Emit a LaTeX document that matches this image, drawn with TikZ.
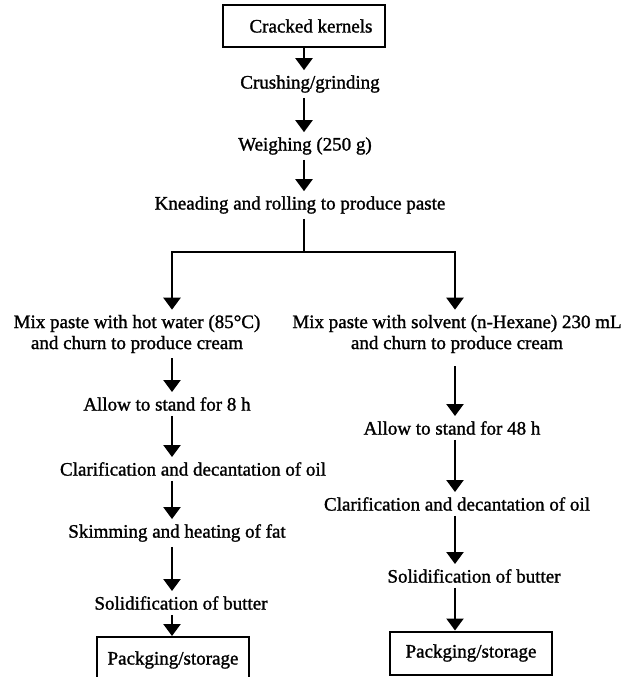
\documentclass[tikz,border=0pt]{standalone}
\usepackage{fontspec}
\setmainfont{Liberation Serif}[FakeBold=1.3]
\usetikzlibrary{arrows.meta,calc}
\tikzset{
  stagebox/.style={draw,line width=2pt,inner xsep=10pt,inner ysep=0pt,
                   minimum height=42pt,align=center},
  stage/.style   ={inner xsep=0pt,inner ysep=5pt,align=center},
  flow/.style    ={-{Triangle[length=12pt,width=17pt]},line width=2.3pt},
  link/.style    ={line width=2.3pt}
}

\begin{document}
\begin{tikzpicture}[x=1pt,y=-1pt,every node/.style={font=\fontsize{19}{21}\selectfont}]
  \useasboundingbox (0,0) rectangle (627,677);
  % arrow columns
  \coordinate (colM) at (304,0);
  \coordinate (colL) at (172,0);
  \coordinate (colR) at (455,0);
  \coordinate (fork) at (304,252);

  % common trunk
  \node[stagebox,minimum width=162pt] (crack) at (304,26) {\hspace*{14pt}Cracked kernels};
  \node[stage] (crush) at (310,84) {Crushing/grinding};
  \node[stage] (weigh) at (305,146) {Weighing (250 g)};
  \node[stage] (knead) at (300,205) {Kneading and rolling to produce paste};
  \draw[flow] (crack.south -| colM) -- (crush.north -| colM);
  \draw[flow] (crush.south -| colM) -- (weigh.north -| colM);
  \draw[flow] (weigh.south -| colM) -- (knead.north -| colM);
  \draw[link] (knead.south -| colM) -- (fork);

  % hot water route
  \node[stage] (mixL) at (137,334) {Mix paste with hot water (85°C)\\and churn to produce cream};
  \node[stage] (stand8) at (167,404) {Allow to stand for 8 h};
  \node[stage] (clarL) at (193,469) {Clarification and decantation of oil};
  \node[stage] (skim) at (177,533) {Skimming and heating of fat};
  \node[stage] (solidL) at (181,603) {Solidification of butter};
  \node[stagebox,minimum width=152pt,minimum height=46pt] (packL) at (173,660) {Packging/storage};
  \draw[flow] (fork) -| (mixL.north -| colL);
  \draw[flow] (mixL.south -| colL) -- (stand8.north -| colL);
  \draw[flow] (stand8.south -| colL) -- (clarL.north -| colL);
  \draw[flow] (clarL.south -| colL) -- (skim.north -| colL);
  \draw[flow] (skim.south -| colL) -- (solidL.north -| colL);
  \draw[flow] (solidL.south -| colL) -- (packL.north -| colL);

  % solvent route
  \node[stage] (mixR) at (457,334) {Mix paste with solvent (n-Hexane) 230 mL\\and churn to produce cream};
  \node[stage] (stand48) at (452,428) {Allow to stand for 48 h};
  \node[stage] (clarR) at (457,504) {Clarification and decantation of oil};
  \node[stage] (solidR) at (474,576) {Solidification of butter};
  \node[stagebox,minimum width=162pt,minimum height=43pt] (packR) at (471,653) {Packging/storage};
  \draw[flow] (fork) -| (mixR.north -| colR);
  \draw[flow] ($(mixR.south -| colR)+(0,8)$) -- (stand48.north -| colR);
  \draw[flow] (stand48.south -| colR) -- (clarR.north -| colR);
  \draw[flow] (clarR.south -| colR) -- (solidR.north -| colR);
  \draw[flow] (solidR.south -| colR) -- (packR.north -| colR);
\end{tikzpicture}
\end{document}
